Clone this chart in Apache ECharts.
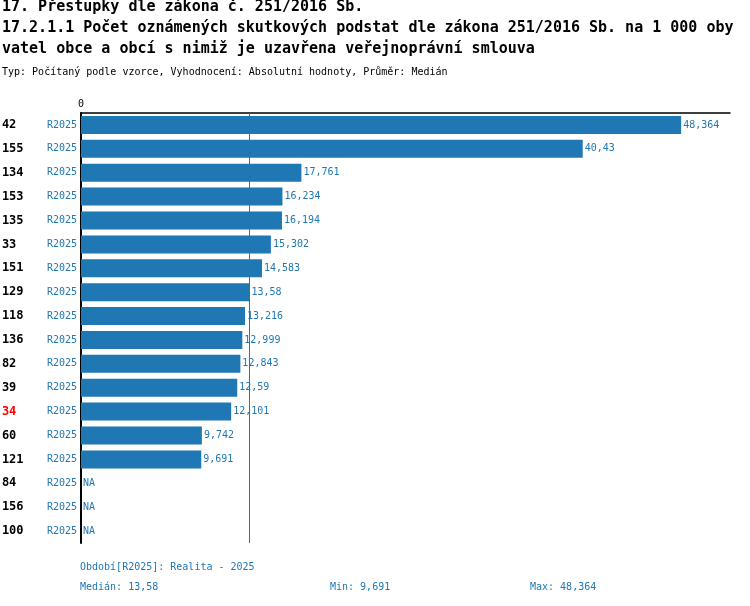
<!DOCTYPE html>
<html lang="cs">
<head>
<meta charset="UTF-8">
<script src="https://cdn.jsdelivr.net/npm/echarts@6/dist/echarts.min.js"></script>
<style>
  html, body { margin: 0; padding: 0; background: #fff; }
  #chart { width: 750px; height: 606px; }
</style>
</head>
<body>
<div id="chart"></div>
<script>
  // data
  const ids = ['42', '155', '134', '153', '135', '33', '151', '129', '118', '136', '82', '39', '34', '60', '121', '84', '156', '100'];
  const values = [48.364, 40.43, 17.761, 16.234, 16.194, 15.302, 14.583, 13.58, 13.216, 12.999, 12.843, 12.59, 12.101, 9.742, 9.691, null, null, null];
  const highlightId = '34';
  const median = 13.58;

  const mono = 'DejaVu Sans Mono';
  const blue = '#1f77b4';

  const chart = echarts.init(document.getElementById('chart'));

  const fmt = v => String(v).replace('.', ',');

  chart.setOption({
    animation: false,
    textStyle: { fontFamily: mono },
    grid: { left: 81, right: 20, top: 113, bottom: 63, containLabel: false, outerBoundsMode: 'none' },
    xAxis: {
      type: 'value', position: 'top', min: 0, max: 52.3, interval: 52.3,
      axisLine: { show: true, lineStyle: { color: '#000', width: 1.5 } },
      axisTick: { show: false },
      splitLine: { show: false },
      axisLabel: { formatter: v => v === 0 ? '0' : '', fontSize: 10, color: '#000', margin: 4 }
    },
    yAxis: {
      type: 'category', inverse: true, data: ids,
      axisLine: { show: true, lineStyle: { color: '#000', width: 2 } },
      axisTick: { show: false },
      axisLabel: {
        margin: 4,
        formatter: id => `{${id === highlightId ? 'h' : 'id'}|${id}}{r|R2025}`,
        rich: {
          id: { width: 45, align: 'left', fontWeight: 'bold', fontSize: 12, color: '#000', fontFamily: mono },
          h: { width: 45, align: 'left', fontWeight: 'bold', fontSize: 12, color: '#ff0000', fontFamily: mono },
          r: { fontSize: 10, color: blue, fontFamily: mono }
        }
      }
    },
    series: [{
      type: 'bar',
      barWidth: 18,
      itemStyle: { color: blue },
      data: values.map(v => v === null
        ? { value: 0, label: { formatter: 'NA' } }
        : { value: v }),
      label: {
        show: true, position: 'right', distance: 2, color: blue, fontSize: 10, fontFamily: mono,
        formatter: p => fmt(p.value)
      },
      markLine: {
        silent: true, symbol: 'none', label: { show: false },
        lineStyle: { color: blue, type: 'solid', width: 1, opacity: 1 },
        emphasis: { disabled: true },
        data: [{ xAxis: median }]
      }
    }],
    graphic: [
      { type: 'text', left: 2, top: 0, style: { text: '17. Přestupky dle zákona č. 251/2016 Sb.', font: 'bold 15px "DejaVu Sans Mono"', fill: '#000' } },
      { type: 'text', left: 2, top: 21, style: { text: '17.2.1.1 Počet oznámených skutkových podstat dle zákona 251/2016 Sb. na 1 000 oby', font: 'bold 15px "DejaVu Sans Mono"', fill: '#000' } },
      { type: 'text', left: 2, top: 42, style: { text: 'vatel obce a obcí s nimiž je uzavřena veřejnoprávní smlouva', font: 'bold 15px "DejaVu Sans Mono"', fill: '#000' } },
      { type: 'text', left: 2, top: 67, style: { text: 'Typ: Počítaný podle vzorce, Vyhodnocení: Absolutní hodnoty, Průměr: Medián', font: '10px "DejaVu Sans Mono"', fill: '#000' } },
      { type: 'text', left: 80, top: 562, style: { text: 'Období[R2025]: Realita - 2025', font: '10px "DejaVu Sans Mono"', fill: blue } },
      { type: 'text', left: 80, top: 582, style: { text: 'Medián: 13,58', font: '10px "DejaVu Sans Mono"', fill: blue } },
      { type: 'text', left: 330, top: 582, style: { text: 'Min: 9,691', font: '10px "DejaVu Sans Mono"', fill: blue } },
      { type: 'text', left: 530, top: 582, style: { text: 'Max: 48,364', font: '10px "DejaVu Sans Mono"', fill: blue } }
    ]
  });
</script>
</body>
</html>
